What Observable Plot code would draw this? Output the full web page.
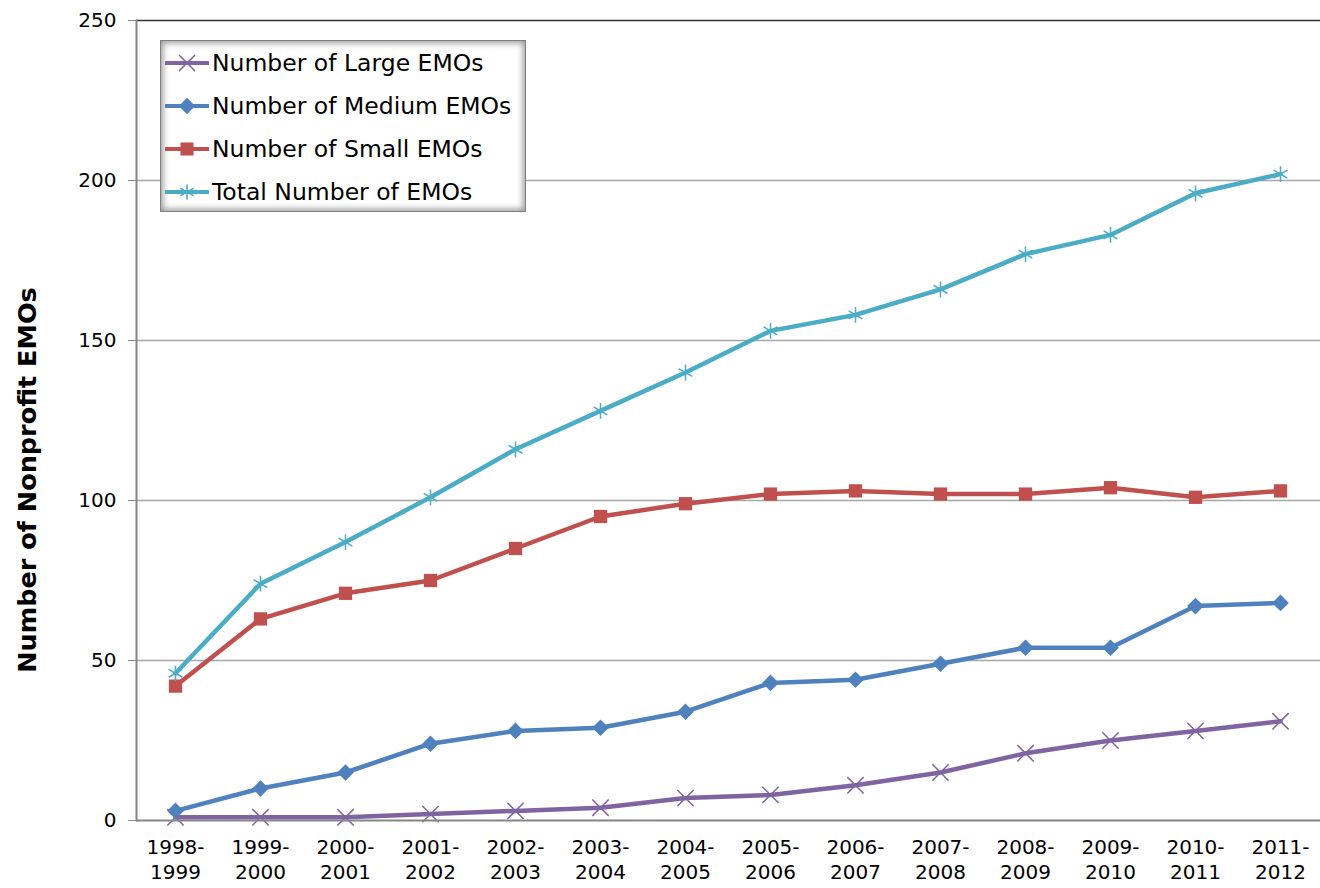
<!DOCTYPE html>
<html>
<head>
<meta charset="utf-8">
<script src="https://cdn.jsdelivr.net/npm/d3@7"></script>
<script src="https://cdn.jsdelivr.net/npm/@observablehq/plot@0.6"></script>
<style>
  body { margin: 0; background: #fff; font-family: "DejaVu Sans", sans-serif; }
  #wrap { position: relative; width: 1320px; height: 888px; overflow: hidden; }
  #legend { position: absolute; left: 160px; top: 40px; width: 366px; height: 172px;
    background: #fff; border: 1px solid #7f7f7f;
    box-shadow: inset 0 0 6px 2px #9a9a9a; box-sizing: border-box; padding: 0 0 0 2px; }
  .li { display: flex; align-items: center; height: 43px; font-size: 23.5px; color: #000; white-space: nowrap; }
  .li svg { flex: none; margin-right: 1px; }
</style>
</head>
<body>
<div id="wrap">
  <div id="chart"></div>
  <div id="legend"></div>
</div>
<script>
const categories = ["1998-1999","1999-2000","2000-2001","2001-2002","2002-2003","2003-2004","2004-2005","2005-2006","2006-2007","2007-2008","2008-2009","2009-2010","2010-2011","2011-2012"];
const large  = [1, 1, 1, 2, 3, 4, 7, 8, 11, 15, 21, 25, 28, 31];
const medium = [3, 10, 15, 24, 28, 29, 34, 43, 44, 49, 54, 54, 67, 68];
const small  = [42, 63, 71, 75, 85, 95, 99, 102, 103, 102, 102, 104, 101, 103];
const total  = [46, 74, 87, 101, 116, 128, 140, 153, 158, 166, 177, 183, 196, 202];
const yTicks = [0, 50, 100, 150, 200, 250];

const seriesNames = ["Number of Large EMOs", "Number of Medium EMOs", "Number of Small EMOs", "Total Number of EMOs"];
const seriesValues = [large, medium, small, total];
const seriesColors = ["#8064A2", "#4F81BD", "#C0504D", "#4BACC6"];
const seriesSymbols = ["times", "diamond2", "square", "asterisk"];

const rows = [];
seriesNames.forEach((name, i) => {
  categories.forEach((c, j) => rows.push({series: name, cat: c, value: seriesValues[i][j]}));
});

const marks = [
  Plot.ruleY(yTicks.filter(d => d > 0 && d < 250), {stroke: "#a6a6a6", strokeWidth: 1.5}),
  Plot.ruleY([250], {stroke: "#333", strokeWidth: 1.5}),
  Plot.frame({anchor: "left", stroke: "#868686", strokeWidth: 2}),
  Plot.axisY({ticks: yTicks, tickSize: 8, tickPadding: 12, fontSize: 20, label: null, stroke: "#868686"}),
  Plot.axisX({tickSize: 0, tickPadding: 16, fontSize: 20, label: null,
    tickFormat: d => d.replace("-", "-\n"), lineHeight: 1.25}),
];
seriesNames.forEach((name, i) => {
  const data = rows.filter(r => r.series === name);
  marks.push(Plot.line(data, {x: "cat", y: "value", stroke: seriesColors[i], strokeWidth: 4.5}));
  const sym = seriesSymbols[i];
  const filled = sym === "diamond2" || sym === "square";
  marks.push(Plot.dot(data, {x: "cat", y: "value", symbol: () => sym,
    r: 7.5,
    fill: filled ? seriesColors[i] : "none",
    stroke: seriesColors[i], strokeWidth: filled ? 0 : 1.5}));
});
marks.push(Plot.ruleY([0], {stroke: "#868686", strokeWidth: 2}));

const chart = Plot.plot({
  width: 1320,
  height: 888,
  marginLeft: 136,
  marginRight: 0,
  marginTop: 20,
  marginBottom: 68,
  style: {fontFamily: "'DejaVu Sans', sans-serif", color: "#000", background: "#fff"},
  x: {type: "point", domain: categories, range: [174, 1280], padding: 0, axis: null},
  y: {domain: [0, 250], axis: null},
  symbol: {type: "identity"},
  marks
});
document.getElementById("chart").appendChild(chart);

// Y axis title
const svg = d3.select(chart);
svg.append("text")
  .attr("transform", "translate(36,480) rotate(-90)")
  .attr("text-anchor", "middle")
  .attr("font-size", 25.5)
  .attr("font-weight", "bold")
  .attr("fill", "#000")
  .text("Number of Nonprofit EMOs");

// Legend
const legend = document.getElementById("legend");
seriesNames.forEach((name, i) => {
  const row = document.createElement("div");
  row.className = "li";
  const sym = d3.select(row).append("svg").attr("width", 48).attr("height", 20);
  sym.append("line").attr("x1", 2).attr("x2", 46).attr("y1", 10).attr("y2", 10)
    .attr("stroke", seriesColors[i]).attr("stroke-width", 4);
  const s = seriesSymbols[i];
  const c = seriesColors[i];
  const symMap = {times: d3.symbolTimes, diamond2: d3.symbolDiamond2, square: d3.symbolSquare, asterisk: d3.symbolAsterisk};
  const filled = s === "diamond2" || s === "square";
  sym.append("path").attr("transform", "translate(24,10)")
    .attr("d", d3.symbol(symMap[s], 170)())
    .attr("fill", filled ? c : "none").attr("stroke", c).attr("stroke-width", filled ? 0 : 1.5);
  row.appendChild(document.createTextNode(name));
  legend.appendChild(row);
});
</script>
</body>
</html>
